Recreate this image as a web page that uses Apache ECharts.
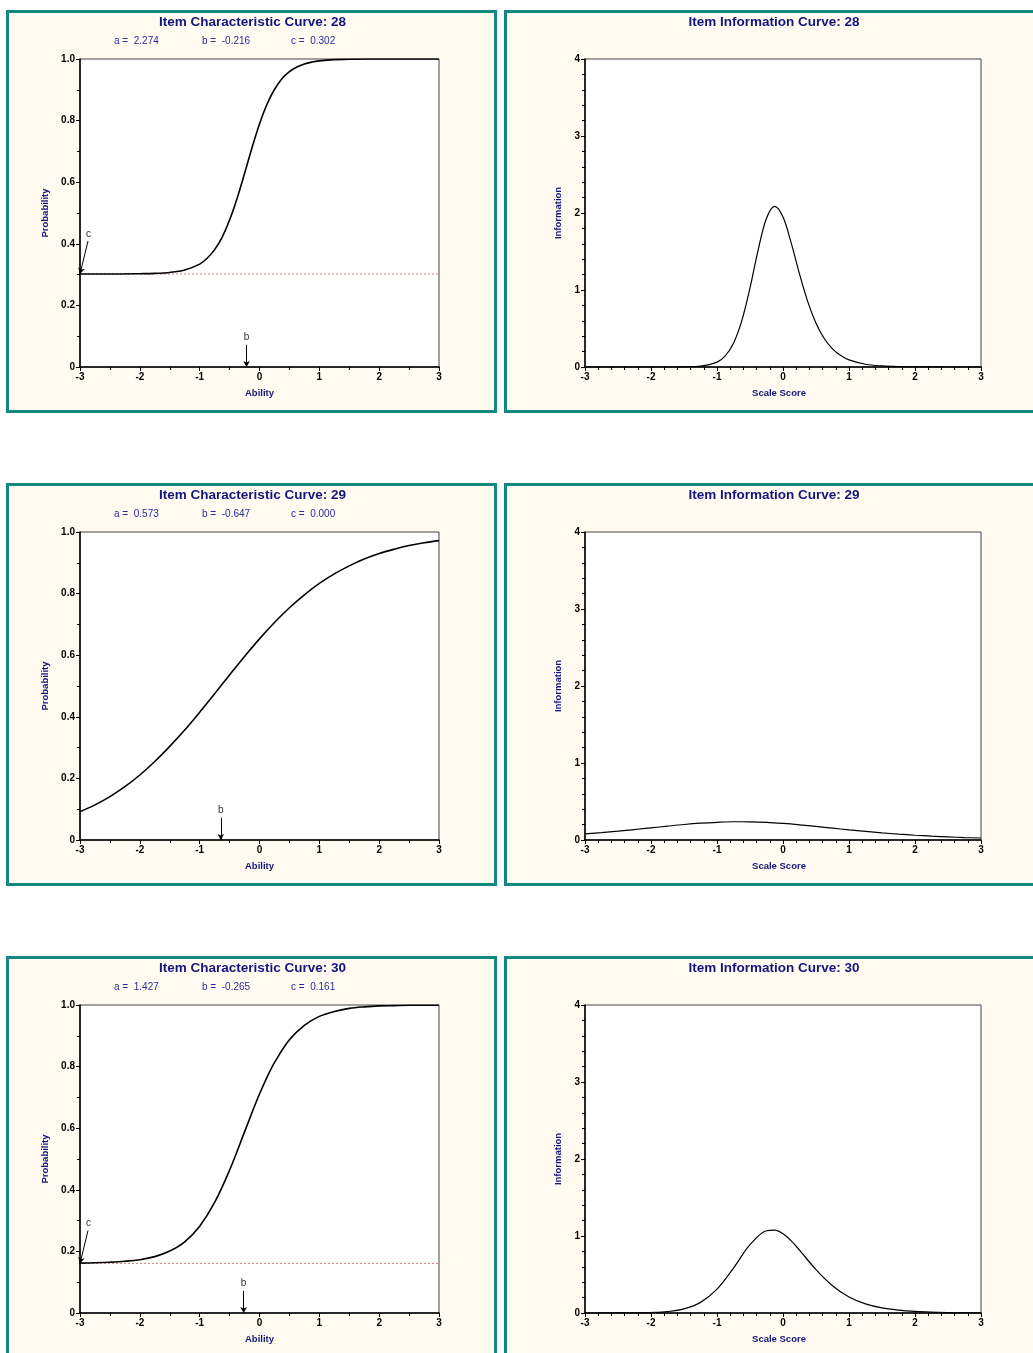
<!DOCTYPE html>
<html>
<head>
<meta charset="utf-8">
<script src="https://cdn.jsdelivr.net/npm/echarts@6/dist/echarts.min.js"></script>
<style>
  body { margin: 0; background: #fff; width: 1033px; height: 1353px; overflow: hidden; position: relative; }
  .panel { position: absolute; box-sizing: border-box; border: 3px solid #13887f; background: #fffbf0; }
  .chart { width: 100%; height: 100%; }
</style>
</head>
<body>
<div class="panel" style="left:6px;top:10px;width:491px;height:403px"><div id="icc28" class="chart"></div></div>
<div class="panel" style="left:504px;top:10px;width:540px;height:403px"><div id="iic28" class="chart"></div></div>
<div class="panel" style="left:6px;top:483px;width:491px;height:403px"><div id="icc29" class="chart"></div></div>
<div class="panel" style="left:504px;top:483px;width:540px;height:403px"><div id="iic29" class="chart"></div></div>
<div class="panel" style="left:6px;top:956px;width:491px;height:403px"><div id="icc30" class="chart"></div></div>
<div class="panel" style="left:504px;top:956px;width:540px;height:403px"><div id="iic30" class="chart"></div></div>

<script>
// item parameters: a, b, c
const params28 = [2.274, -0.216, 0.302];
const params29 = [0.573, -0.647, 0.000];
const params30 = [1.427, -0.265, 0.161];

// item 28
const theta28 = [-3, -2.5, -2, -1.75, -1.5, -1.25, -1, -0.875, -0.75, -0.625, -0.5, -0.375, -0.25, -0.125,
  0, 0.125, 0.25, 0.375, 0.5, 0.625, 0.75, 0.875, 1, 1.25, 1.5, 1.75, 2, 2.5, 3];
const icc28 = [0.302, 0.302, 0.303, 0.304, 0.307, 0.315, 0.334, 0.353, 0.381, 0.421, 0.477, 0.547, 0.628, 0.712,
  0.789, 0.853, 0.901, 0.936, 0.959, 0.974, 0.984, 0.990, 0.994, 0.998, 0.999, 1.0, 1.0, 1.0, 1.0];
const info28 = [0, 0, 0, 0, 0.002, 0.011, 0.063, 0.145, 0.309, 0.599, 1.028, 1.525, 1.932, 2.087,
  1.947, 1.608, 1.209, 0.849, 0.569, 0.370, 0.236, 0.149, 0.093, 0.036, 0.014, 0.005, 0.002, 0, 0];

// item 29
const theta29 = [-3, -2.75, -2.5, -2.25, -2, -1.75, -1.5, -1.25, -1, -0.75, -0.5, -0.25,
  0, 0.25, 0.5, 0.75, 1, 1.25, 1.5, 1.75, 2, 2.25, 2.5, 2.75, 3];
const icc29 = [0.092, 0.114, 0.141, 0.173, 0.211, 0.255, 0.304, 0.357, 0.415, 0.475, 0.536, 0.596,
  0.653, 0.706, 0.754, 0.796, 0.833, 0.864, 0.890, 0.912, 0.930, 0.944, 0.956, 0.965, 0.972];
const info29 = [0.079, 0.096, 0.115, 0.136, 0.158, 0.180, 0.201, 0.218, 0.230, 0.237, 0.236, 0.229,
  0.215, 0.197, 0.176, 0.154, 0.132, 0.112, 0.093, 0.076, 0.062, 0.050, 0.040, 0.032, 0.026];

// item 30
const theta30 = [-3, -2.75, -2.5, -2.25, -2, -1.75, -1.5, -1.25, -1, -0.75, -0.5, -0.25, -0.125,
  0, 0.125, 0.25, 0.5, 0.75, 1, 1.25, 1.5, 1.75, 2, 2.25, 2.5, 2.75, 3];
const icc30 = [0.162, 0.163, 0.165, 0.168, 0.173, 0.183, 0.201, 0.231, 0.282, 0.359, 0.464, 0.588, 0.651,
  0.711, 0.765, 0.813, 0.887, 0.934, 0.963, 0.979, 0.989, 0.994, 0.997, 0.998, 0.999, 0.999, 1.0];
const info30 = [0, 0, 0.001, 0.002, 0.006, 0.018, 0.053, 0.138, 0.311, 0.584, 0.887, 1.068, 1.076,
  1.028, 0.936, 0.817, 0.563, 0.353, 0.208, 0.119, 0.066, 0.037, 0.020, 0.011, 0.006, 0.003, 0.002];

const FONT = 'Arial, "Liberation Sans", sans-serif';
const NAVY = '#14147f';
const PARAM_BLUE = '#2a2aa0';

function pairs(xs, ys) {
  return xs.map((x, i) => [x, ys[i]]);
}

function titleText(text, x) {
  return {
    type: 'text', x: x, y: 9.5, silent: true,
    style: { text: text, fill: NAVY, font: 'bold 13.5px ' + FONT, align: 'center', verticalAlign: 'middle' },
  };
}

function paramText(text, x) {
  return {
    type: 'text', x: x, y: 28.5, silent: true,
    style: { text: text, fill: PARAM_BLUE, font: '10px ' + FONT, align: 'left', verticalAlign: 'middle' },
  };
}

function axisCommon(name, gap, minorSplit) {
  return {
    type: 'value',
    name: name,
    nameLocation: 'middle',
    nameGap: gap,
    nameTextStyle: { color: NAVY, fontWeight: 'bold', fontSize: 9.5, fontFamily: FONT },
    axisLine: { show: true, onZero: false, lineStyle: { color: '#000', width: 1.5 } },
    axisTick: { show: true, length: 4, lineStyle: { color: '#000', width: 1 } },
    minorTick: { show: true, splitNumber: minorSplit, length: 3, lineStyle: { color: '#000', width: 1 } },
    axisLabel: { color: '#000', fontWeight: 'bold', fontSize: 10, fontFamily: FONT, margin: 5 },
    splitLine: { show: false },
  };
}

function makeIcc(id, num, theta, p, prm) {
  const chart = echarts.init(document.getElementById(id));
  const [a, b, c] = prm;
  const series = [];

  // b marker
  const bMark = {
    silent: true,
    symbol: ['none', 'arrow'],
    symbolSize: [5, 6],
    lineStyle: { color: '#000', width: 1, type: 'solid' },
    label: { show: true, position: 'start', formatter: 'b', color: '#333', fontSize: 10, fontFamily: FONT, distance: 3 },
    data: [[{ coord: [b, 0.072] }, { coord: [b, 0] }]],
  };

  if (c > 0) {
    series.push({
      type: 'line',
      data: [[-3, c], [3, c]],
      symbol: 'none',
      silent: true,
      lineStyle: { color: '#d48080', width: 1, type: [2, 2] },
      markLine: {
        silent: true,
        symbol: ['none', 'arrow'],
        symbolSize: [5, 6],
        lineStyle: { color: '#000', width: 1, type: 'solid' },
        label: { show: true, position: 'start', formatter: 'c', color: '#333', fontSize: 10, fontFamily: FONT, distance: 2 },
        data: [[{ coord: [-2.866, c + 0.107] }, { coord: [-3, c] }]],
      },
      z: 2,
    });
  }

  series.push({
    type: 'line',
    data: pairs(theta, p),
    symbol: 'none',
    smooth: 0.35,
    silent: true,
    lineStyle: { color: '#000', width: 1.6 },
    markLine: bMark,
    z: 3,
  });

  const xAxis = axisCommon('Ability', 21, 2);
  Object.assign(xAxis, { min: -3, max: 3, interval: 1 });
  const yAxis = axisCommon('Probability', 30, 2);
  Object.assign(yAxis, { min: 0, max: 1, interval: 0.2 });
  yAxis.axisLabel.formatter = (v) => (v === 0 ? '0' : v.toFixed(1));

  chart.setOption({
    animation: false,
    textStyle: { fontFamily: FONT },
    grid: { left: 71, top: 46, width: 359, height: 308, show: true, backgroundColor: '#fff', borderColor: '#444', borderWidth: 1 },
    graphic: [
      titleText('Item Characteristic Curve: ' + num, 243.5),
      paramText('a =  ' + a.toFixed(3), 105),
      paramText('b =  ' + b.toFixed(3), 193),
      paramText('c =  ' + c.toFixed(3), 282),
    ],
    xAxis: xAxis,
    yAxis: yAxis,
    series: series,
  });
}

function makeInfo(id, num, theta, info) {
  const chart = echarts.init(document.getElementById(id));
  const xAxis = axisCommon('Scale Score', 21, 5);
  Object.assign(xAxis, { min: -3, max: 3, interval: 1 });
  xAxis.nameTextStyle.padding = [0, 8, 0, 0];
  const yAxis = axisCommon('Information', 22, 5);
  Object.assign(yAxis, { min: 0, max: 4, interval: 1 });

  chart.setOption({
    animation: false,
    textStyle: { fontFamily: FONT },
    grid: { left: 78, top: 46, width: 396, height: 308, show: true, backgroundColor: '#fff', borderColor: '#444', borderWidth: 1 },
    graphic: [titleText('Item Information Curve: ' + num, 267)],
    xAxis: xAxis,
    yAxis: yAxis,
    series: [{
      type: 'line',
      data: pairs(theta, info),
      symbol: 'none',
      smooth: 0.35,
      silent: true,
      lineStyle: { color: '#000', width: 1.2 },
    }],
  });
}

makeIcc('icc28', 28, theta28, icc28, params28);
makeInfo('iic28', 28, theta28, info28);
makeIcc('icc29', 29, theta29, icc29, params29);
makeInfo('iic29', 29, theta29, info29);
makeIcc('icc30', 30, theta30, icc30, params30);
makeInfo('iic30', 30, theta30, info30);
</script>
</body>
</html>
